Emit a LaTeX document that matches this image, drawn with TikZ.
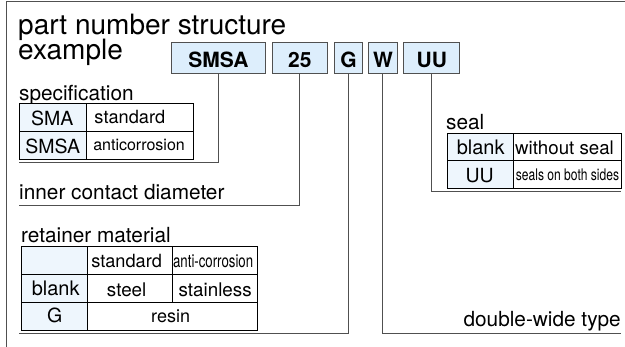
\documentclass[tikz,border=0pt]{standalone}
\usepackage{fontspec}
\setmainfont{TeX Gyre Heros}
\definecolor{boxfill}{HTML}{DDEEFC}
\definecolor{headfill}{HTML}{EEF6FD}
\definecolor{framegray}{HTML}{505050}
\newcommand{\fsz}[1]{\fontsize{#1}{#1}\selectfont}
\tikzset{
  x=1pt,y=-1pt,
  frameline/.style={draw=framegray,line width=0.9pt},
  leader/.style={draw=framegray,line width=0.9pt},
  codebox/.style={draw=framegray,line width=0.9pt,fill=boxfill,inner sep=0pt,anchor=north west,minimum height=31.6pt,text height=19pt,text depth=0pt,font=\bfseries\fsz{21}},
  head/.style={draw=black,line width=0.7pt,fill=headfill,inner sep=0pt,anchor=north west},
  cell/.style={draw=black,line width=0.7pt,fill=white,inner sep=0pt,anchor=north west},
  lab/.style={inner sep=0pt,anchor=base west,font=\fsz{20.8}},
  bigt/.style={inner sep=0pt,anchor=base west,font=\fsz{28}},
  bl/.style={text height=#1,text depth=0pt},
}
\begin{document}
\begin{tikzpicture}
\useasboundingbox (0,0) rectangle (625,347);
\fill[white] (0,0) rectangle (625,347);
\draw[frameline] (6,347) -- (6,1.7) -- (625,1.7);
\node[bigt] (t1) at (18,34.5) {part number structure};
\node[bigt] (t2) at (18,59.5) {example};
% leader lines
\coordinate (l1) at (19,162.5);
\coordinate (c1) at (218.3,162.5);
\coordinate (l2) at (19,205);
\coordinate (c2) at (299.5,205);
\coordinate (l3) at (19,333);
\coordinate (c3) at (348,333);
\coordinate (c4) at (382.5,333);
\coordinate (r4) at (621,333);
\coordinate (c5) at (431,191.7);
\coordinate (r5) at (621,191.7);
% code boxes
\node[codebox,minimum width=94pt] (smsa) at (171,41.7) {SMSA};
\node[codebox,minimum width=55.5pt] (n25) at (271.7,41.7) {25};
\node[codebox,minimum width=28.6pt] (g) at (333.7,41.7) {G};
\node[codebox,minimum width=28.4pt] (w) at (368.3,41.7) {W};
\node[codebox,minimum width=56pt] (uu) at (403.3,41.7) {UU};
\draw[leader] (smsa.south -| c1) -- (c1) -- (l1);
\draw[leader] (n25.south -| c2) -- (c2) -- (l2);
\draw[leader] (g.south -| c3) -- (c3) -- (l3);
\draw[leader] (w.south -| c4) -- (c4) -- (r4);
\draw[leader] (uu.south -| c5) -- (c5) -- (r5);
% specification
\node[lab] (specl) at (19,100.5) {specification};
\node[head,font=\fsz{19.5},minimum width=66.7pt,minimum height=27.7pt,bl=16.7pt] (s11) at (19,103.3) {SMA\kern1pt};
\node[cell,minimum width=107pt,minimum height=27.7pt,bl=11.1pt,font=\fsz{18.2}] (s12) at (85.7,103.3) {standard\kern19.4pt};
\node[head,font=\fsz{19.5},minimum width=66.7pt,minimum height=27.7pt,bl=17.3pt] (s21) at (19,131) {SMSA};
\node[cell,minimum width=107pt,minimum height=27.7pt,bl=10.3pt,font=\fsz{16}] (s22) at (85.7,131) {anticorrosion\kern1pt};
% inner contact diameter
\node[lab] (icd) at (19,200) {inner contact diameter};
% retainer
\node[lab] (retl) at (21,243) {retainer material};
\node[head,minimum width=66pt,minimum height=28pt] (r11) at (21.3,246.3) {};
\node[cell,font=\fsz{18.2},minimum width=85pt,minimum height=28pt,bl=12.8pt] (r12) at (87.3,246.3) {standard\kern7pt};
\node[cell,minimum width=85pt,minimum height=28pt,bl=12.8pt] (r13) at (172.3,246.3) {\fsz{18}\addfontfeature{FakeStretch=0.735}anti-corrosion\kern4pt};
\node[head,font=\fsz{20},minimum width=66pt,minimum height=27.7pt,bl=13.7pt] (r21) at (21.3,274.3) {\kern2pt blank};
\node[cell,font=\fsz{18.8},minimum width=85pt,minimum height=27.7pt,bl=15.7pt] (r22) at (87.3,274.3) {steel\kern7pt};
\node[cell,font=\fsz{18.8},minimum width=85pt,minimum height=27.7pt,bl=15.7pt] (r23) at (172.3,274.3) {stainless};
\node[head,font=\fsz{19.5},minimum width=66pt,minimum height=27.7pt,bl=11.7pt] (r31) at (21.3,302) {G};
\node[cell,font=\fsz{18},minimum width=170pt,minimum height=27.7pt,bl=11.7pt] (r32) at (87.3,302) {resin\kern4pt};
% seal
\node[lab] (seall) at (446,130) {seal};
\node[head,font=\fsz{20},minimum width=66pt,minimum height=27.6pt,bl=16pt] (e11) at (447.3,132.7) {blank};
\node[cell,font=\fsz{18.7},minimum width=107.7pt,minimum height=27.6pt,bl=16pt] (e12) at (513.3,132.7) {without seal\kern6pt};
\node[head,font=\fsz{19.5},minimum width=66pt,minimum height=28pt,bl=15.4pt] (e21) at (447.3,160.3) {UU\kern2pt};
\node[cell,minimum width=107.7pt,minimum height=28pt,bl=11.4pt] (e22) at (513.3,160.3) {\fsz{16}\addfontfeature{FakeStretch=0.754}seals on both sides};
% double-wide
\node[inner sep=0pt,anchor=base east,font=\fsz{20.8}] (dw) at (621,326.7) {double-wide type};
\end{tikzpicture}
\end{document}
